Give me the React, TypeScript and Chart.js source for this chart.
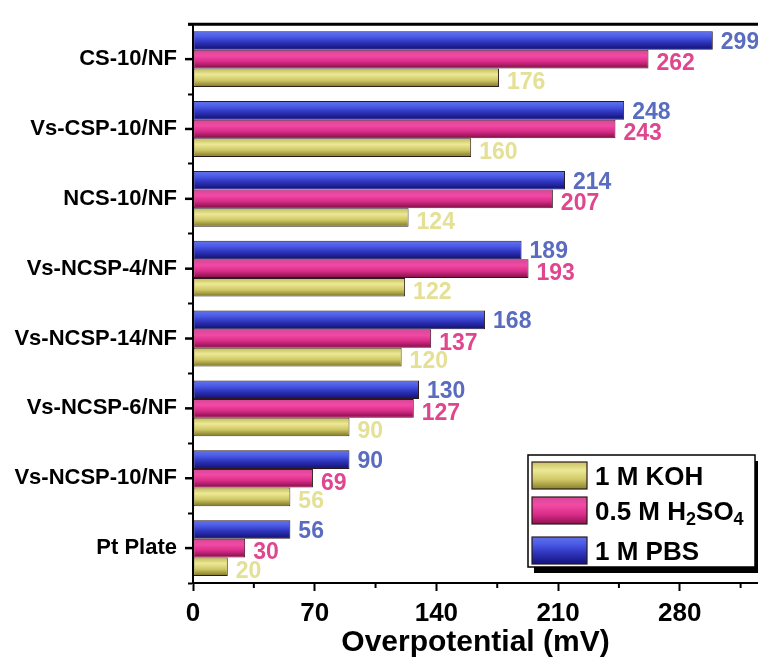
import React, { useEffect, useRef } from 'react';
import { Chart, registerables } from 'chart.js';

Chart.register(...registerables);

const CATEGORIES = ['CS-10/NF', 'Vs-CSP-10/NF', 'NCS-10/NF', 'Vs-NCSP-4/NF', 'Vs-NCSP-14/NF', 'Vs-NCSP-6/NF', 'Vs-NCSP-10/NF', 'Pt Plate'];
const PBS = [299, 248, 214, 189, 168, 130, 90, 56];
const H2SO4 = [262, 243, 207, 193, 137, 127, 69, 30];
const KOH = [176, 160, 124, 122, 120, 90, 56, 20];
const SERIES_NAMES = ['1 M PBS', '0.5 M H2SO4', '1 M KOH'];
const LEGEND_ORDER = [2, 1, 0];
const X_MAJOR_TICKS = [0, 70, 140, 210, 280];
const X_MINOR_TICKS = [35, 105, 175, 245, 315];
const X_MAX = 325;
const X_TITLE = 'Overpotential (mV)';

const FONT = '"Liberation Sans", Arial, sans-serif';
const BORDER = '#2a1a1a';
const GRADIENTS: [number, string][][] = [
  [[0, '#6070e8'], [0.25, '#4c5ce8'], [0.6, '#2e34bc'], [1, '#14147a']],
  [[0, '#d8489a'], [0.3, '#f24aa4'], [0.65, '#d82c88'], [1, '#8c124e']],
  [[0, '#c8c062'], [0.3, '#ece896'], [0.65, '#d0c866'], [1, '#86802c']],
];
const MID_COLORS = ['#3a46d0', '#e03494', '#d6ce70'];
const LABEL_COLORS = ['#5a6cbf', '#e0468e', '#e4e096'];
const LABEL_DY = [2, 5, 5];

function fillGrad(ctx: CanvasRenderingContext2D, di: number, x: number, y: number, w: number, h: number) {
  const g = ctx.createLinearGradient(0, y, 0, y + h);
  GRADIENTS[di].forEach(([o, c]) => g.addColorStop(o, c));
  ctx.fillStyle = g;
  ctx.fillRect(x, y, w, h);
}

function drawRich(ctx: CanvasRenderingContext2D, text: string, x: number, baseline: number, size: number) {
  let cx = x;
  let i = 0;
  while (i < text.length) {
    const isSub = (k: number) => /\d/.test(text[k]) && k > 0 && /[A-Z]/.test(text[k - 1]);
    const sub = isSub(i);
    let j = i + 1;
    while (j < text.length && isSub(j) === sub) j++;
    const run = text.slice(i, j);
    const fs = sub ? Math.round(size * 0.68) : size;
    ctx.font = `bold ${fs}px ${FONT}`;
    ctx.fillText(run, cx, sub ? baseline + size * 0.2 : baseline);
    cx += ctx.measureText(run).width;
    i = j;
  }
}

const customPlugin = {
  id: 'customDraw',
  afterDatasetsDraw(chart: any) {
    const ctx: CanvasRenderingContext2D = chart.ctx;
    const area = chart.chartArea;
    ctx.save();
    chart.data.datasets.forEach((_ds: any, di: number) => {
      const meta = chart.getDatasetMeta(di);
      meta.data.forEach((el: any, idx: number) => {
        const { x, y, base, height } = el.getProps(['x', 'y', 'base', 'height'], true);
        const top = y - height / 2;
        fillGrad(ctx, di, base + 1, top + 1, x - base - 2, height - 2);
        const v = chart.data.datasets[di].data[idx];
        ctx.font = `bold 23px ${FONT}`;
        ctx.fillStyle = LABEL_COLORS[di];
        ctx.textAlign = 'left';
        ctx.textBaseline = 'middle';
        ctx.fillText(String(v), x + 8, y + LABEL_DY[di]);
      });
    });
    ctx.strokeStyle = '#000';
    ctx.lineWidth = 2;
    ctx.beginPath();
    ctx.moveTo(area.left, area.top);
    ctx.lineTo(area.left, area.bottom + 1);
    ctx.stroke();
    ctx.lineWidth = 3;
    ctx.beginPath();
    ctx.moveTo(area.left - 5, area.top);
    ctx.lineTo(area.right, area.top);
    ctx.stroke();
    const ys = chart.scales.y;
    ctx.lineWidth = 2.5;
    ys.ticks.forEach((_t: any, i: number) => {
      const py = ys.getPixelForTick(i);
      ctx.beginPath();
      ctx.moveTo(area.left - 8, py);
      ctx.lineTo(area.left, py);
      ctx.stroke();
    });
    const xs = chart.scales.x;
    ctx.lineWidth = 2;
    X_MINOR_TICKS.forEach((v) => {
      const px = xs.getPixelForValue(v);
      ctx.beginPath();
      ctx.moveTo(px, area.bottom);
      ctx.lineTo(px, area.bottom + 5);
      ctx.stroke();
    });
    ctx.restore();
  },
  afterDraw(chart: any) {
    const ctx: CanvasRenderingContext2D = chart.ctx;
    const bx = 528, by = 455, bw = 227, bh = 112;
    ctx.save();
    ctx.fillStyle = '#000';
    ctx.fillRect(bx + 6, by + 6, bw, bh);
    ctx.fillStyle = '#fff';
    ctx.fillRect(bx, by, bw, bh);
    ctx.strokeStyle = '#000';
    ctx.lineWidth = 1.5;
    ctx.strokeRect(bx, by, bw, bh);
    const rows = [462, 497, 537];
    LEGEND_ORDER.forEach((di, r) => {
      const sy = rows[r];
      fillGrad(ctx, di, 532, sy, 55, 27);
      ctx.strokeStyle = BORDER;
      ctx.lineWidth = 1.2;
      ctx.strokeRect(532, sy, 55, 27);
      ctx.fillStyle = '#000';
      ctx.textAlign = 'left';
      ctx.textBaseline = 'alphabetic';
      drawRich(ctx, SERIES_NAMES[di], 595, sy + 23, 26);
    });
    ctx.restore();
  },
};

export default function App() {
  const ref = useRef<HTMLCanvasElement>(null);
  useEffect(() => {
    document.body.style.margin = '0';
    document.body.style.overflow = 'hidden';
    if (!ref.current) return;
    const series = [PBS, H2SO4, KOH];
    const chart = new Chart(ref.current, {
      type: 'bar',
      data: {
        labels: CATEGORIES,
        datasets: series.map((d, i) => ({
          label: SERIES_NAMES[i],
          data: d,
          backgroundColor: MID_COLORS[i],
          borderColor: BORDER,
          borderWidth: 1,
          borderSkipped: false,
          categoryPercentage: 0.8,
          barPercentage: 1.0,
        })),
      },
      options: {
        indexAxis: 'y',
        animation: false,
        responsive: false,
        devicePixelRatio: 1,
        layout: { padding: { top: 15, left: 0, right: 0, bottom: 0 } },
        plugins: {
          legend: { display: false },
          tooltip: { enabled: false },
        },
        scales: {
          x: {
            type: 'linear',
            min: 0,
            max: X_MAX,
            position: 'bottom',
            afterFit: (s: any) => { s.height = 79; },
            grid: { display: true, drawOnChartArea: false, drawTicks: true, tickLength: 8, tickWidth: 2, tickColor: '#000' },
            border: { display: true, color: '#000', width: 2 },
            ticks: {
              stepSize: 70,
              includeBounds: false,
              autoSkip: false,
              maxRotation: 0,
              color: '#000',
              padding: 7,
              font: { family: FONT, size: 26, weight: 'bold' },
              callback: (v: any) => (X_MAJOR_TICKS.includes(Number(v)) ? String(v) : ''),
            },
            title: {
              display: true,
              text: X_TITLE,
              color: '#000',
              font: { family: FONT, size: 30, weight: 'bold' },
              padding: { top: 0, bottom: 1 },
            },
          },
          y: {
            type: 'category',
            afterFit: (s: any) => { s.width = 193; },
            grid: { display: true, drawOnChartArea: false, offset: true, tickLength: 5, tickWidth: 2, tickColor: '#000' },
            border: { display: true, color: '#000', width: 2 },
            ticks: {
              autoSkip: false,
              color: '#000',
              padding: 11,
              font: { family: FONT, size: 22, weight: 'bold' },
            },
          },
        },
      } as any,
      plugins: [customPlugin],
    });
    return () => chart.destroy();
  }, []);
  return (
    <div style={{ width: 758, height: 662, position: 'relative', background: '#fff' }}>
      <canvas ref={ref} width={758} height={662} style={{ display: 'block' }} />
    </div>
  );
}
